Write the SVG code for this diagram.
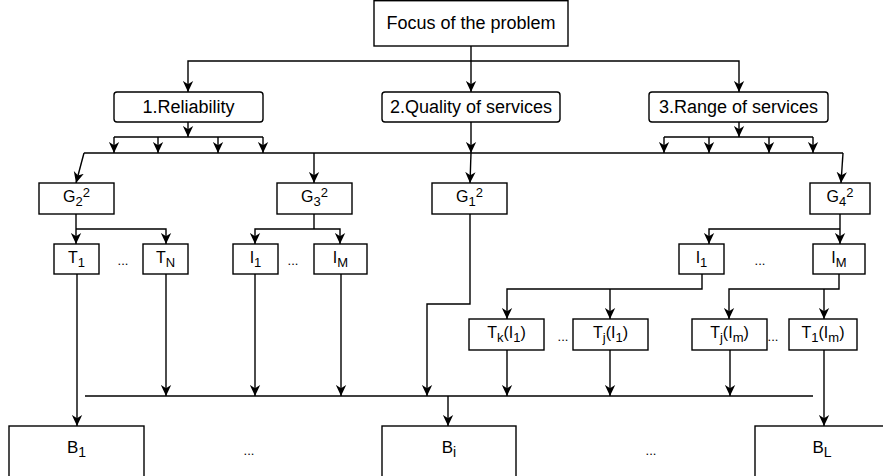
<svg xmlns="http://www.w3.org/2000/svg" width="883" height="476" viewBox="0 0 883 476">
<defs>
<marker id="arr" viewBox="0 0 10 10" refX="10" refY="5" markerWidth="11" markerHeight="11" markerUnits="userSpaceOnUse" orient="auto">
<path d="M0,0.3 L10,5 L0,9.7 L3,5 Z" fill="#000"/>
</marker>
<style>
.box{fill:#fff;stroke:#000;stroke-width:1.4}
.t{font-family:"Liberation Sans",Arial,sans-serif;fill:#000;text-anchor:middle}
.l{font-size:18px}
.s{font-size:16px}
.b{font-size:17px}
.d{font-family:"Liberation Sans",Arial,sans-serif;font-size:13px;fill:#000;text-anchor:middle}
.c{fill:none;stroke:#000;stroke-width:1.4}
.a{marker-end:url(#arr)}
</style>
</defs>
<rect width="883" height="476" fill="#fff"/>
<g id="connectors">
<path class="c a" d="M471,46 V92"/>
<path class="c a" d="M471,61 H188 V92"/>
<path class="c a" d="M471,61 H739 V92"/>
<path class="c a" d="M188,122 V137"/>
<path class="c" d="M114,137 H263"/>
<path class="c a" d="M114,137 V153"/>
<path class="c a" d="M158,137 V153"/>
<path class="c a" d="M218,137 V153"/>
<path class="c a" d="M263,137 V153"/>
<path class="c a" d="M471,122 V153"/>
<path class="c a" d="M471,153 L470,183"/>
<path class="c a" d="M739,122 V137"/>
<path class="c" d="M664,137 H813"/>
<path class="c a" d="M664,137 V153"/>
<path class="c a" d="M709,137 V153"/>
<path class="c a" d="M769,137 V153"/>
<path class="c a" d="M813,137 V153"/>
<path class="c" d="M84,153 H843"/>
<path class="c a" d="M84,153 L76,183"/>
<path class="c a" d="M314,153 V183"/>
<path class="c a" d="M843,153 L841,183"/>
<path class="c a" d="M76,214 V244"/>
<path class="c a" d="M76,229 H166 V244"/>
<path class="c" d="M314,214 V229"/>
<path class="c a" d="M314,229 H255 V244"/>
<path class="c a" d="M314,229 H340 V244"/>
<path class="c a" d="M470,214 V304 H427 V396"/>
<path class="c a" d="M840,214 V244"/>
<path class="c a" d="M840,229 H709 V244"/>
<path class="c a" d="M77,274 V426"/>
<path class="c a" d="M166,274 V396"/>
<path class="c a" d="M255,274 V396"/>
<path class="c a" d="M341,274 V396"/>
<path class="c a" d="M702,274 V289 H507 V319"/>
<path class="c a" d="M610,289 V319"/>
<path class="c a" d="M839,274 V289 H729 V319"/>
<path class="c a" d="M824,289 V319"/>
<path class="c a" d="M507,350 V396"/>
<path class="c a" d="M610,350 V396"/>
<path class="c a" d="M730,350 V396"/>
<path class="c a" d="M824,350 V426"/>
<path class="c" d="M85,396 H813"/>
<path class="c a" d="M448,396 V426"/>
</g>
<g id="focus"><rect class="box" x="374" y="0.7" width="194" height="45.3"/><text class="t l" x="471" y="29">Focus of the problem</text></g>
<g id="reliability"><rect class="box" x="114" y="92" width="149" height="30" rx="3"/><text class="t l" x="188.5" y="113">1.Reliability</text></g>
<g id="quality"><rect class="box" x="382" y="92" width="178" height="30" rx="3"/><text class="t l" x="471" y="113">2.Quality of services</text></g>
<g id="range"><rect class="box" x="649" y="92" width="179" height="30" rx="3"/><text class="t l" x="738.5" y="113">3.Range of services</text></g>
<g id="g2"><rect class="box" x="39" y="183" width="75" height="31"/><text class="t s" x="76.5" y="202">G<tspan font-size="13" dy="4">2</tspan><tspan font-size="13" dy="-9">2</tspan></text></g>
<g id="g3"><rect class="box" x="277" y="183" width="75" height="31"/><text class="t s" x="314.5" y="202">G<tspan font-size="13" dy="4">3</tspan><tspan font-size="13" dy="-9">2</tspan></text></g>
<g id="g1"><rect class="box" x="432" y="183" width="75" height="31"/><text class="t s" x="469.5" y="202">G<tspan font-size="13" dy="4">1</tspan><tspan font-size="13" dy="-9">2</tspan></text></g>
<g id="g4"><rect class="box" x="810" y="183" width="60" height="31"/><text class="t s" x="840" y="202">G<tspan font-size="13" dy="4">4</tspan><tspan font-size="13" dy="-9">2</tspan></text></g>
<g id="t1"><rect class="box" x="54" y="244" width="45" height="30"/><text class="t s" x="76.5" y="263">T<tspan font-size="13" dy="4">1</tspan></text></g>
<g id="tn"><rect class="box" x="143" y="244" width="45" height="30"/><text class="t s" x="165.5" y="263">T<tspan font-size="13" dy="4">N</tspan></text></g>
<g id="i1a"><rect class="box" x="233" y="244" width="45" height="30"/><text class="t s" x="255.5" y="263">I<tspan font-size="13" dy="4">1</tspan></text></g>
<g id="ima"><rect class="box" x="314" y="244" width="53" height="30"/><text class="t s" x="340.5" y="263">I<tspan font-size="13" dy="4">M</tspan></text></g>
<g id="i1b"><rect class="box" x="679" y="244" width="45" height="30"/><text class="t s" x="701.5" y="263">I<tspan font-size="13" dy="4">1</tspan></text></g>
<g id="imb"><rect class="box" x="813" y="244" width="52" height="30"/><text class="t s" x="839" y="263">I<tspan font-size="13" dy="4">M</tspan></text></g>
<g id="tk_i1"><rect class="box" x="469" y="319" width="75" height="31"/><text class="t s" x="506.5" y="338">T<tspan font-size="13" dy="4">k</tspan><tspan dy="-4">(I</tspan><tspan font-size="13" dy="4">1</tspan><tspan dy="-4">)</tspan></text></g>
<g id="tj_i1"><rect class="box" x="573" y="319" width="75" height="31"/><text class="t s" x="610.5" y="338">T<tspan font-size="13" dy="4">j</tspan><tspan dy="-4">(I</tspan><tspan font-size="13" dy="4">1</tspan><tspan dy="-4">)</tspan></text></g>
<g id="tj_im"><rect class="box" x="692" y="319" width="75" height="31"/><text class="t s" x="729.5" y="338">T<tspan font-size="13" dy="4">j</tspan><tspan dy="-4">(I</tspan><tspan font-size="13" dy="4">m</tspan><tspan dy="-4">)</tspan></text></g>
<g id="t1_im"><rect class="box" x="789" y="319" width="68" height="31"/><text class="t s" x="823" y="338">T<tspan font-size="13" dy="4">1</tspan><tspan dy="-4">(I</tspan><tspan font-size="13" dy="4">m</tspan><tspan dy="-4">)</tspan></text></g>
<g id="b1"><rect class="box" x="9" y="426" width="135" height="70"/><text class="t b" x="76.5" y="453">B<tspan font-size="14" dy="4">1</tspan></text></g>
<g id="bi"><rect class="box" x="382" y="426" width="134" height="70"/><text class="t b" x="449" y="453">B<tspan font-size="14" dy="4">i</tspan></text></g>
<g id="bl"><rect class="box" x="755" y="426" width="135" height="70"/><text class="t b" x="822" y="453">B<tspan font-size="14" dy="4">L</tspan></text></g>
<g id="dots">
<text class="d" x="123" y="265">...</text>
<text class="d" x="293" y="265">...</text>
<text class="d" x="760" y="265">...</text>
<text class="d" x="563" y="341">...</text>
<text class="d" x="773" y="341">...</text>
<text class="d" x="249" y="455">...</text>
<text class="d" x="651" y="455">...</text>
</g>
</svg>
